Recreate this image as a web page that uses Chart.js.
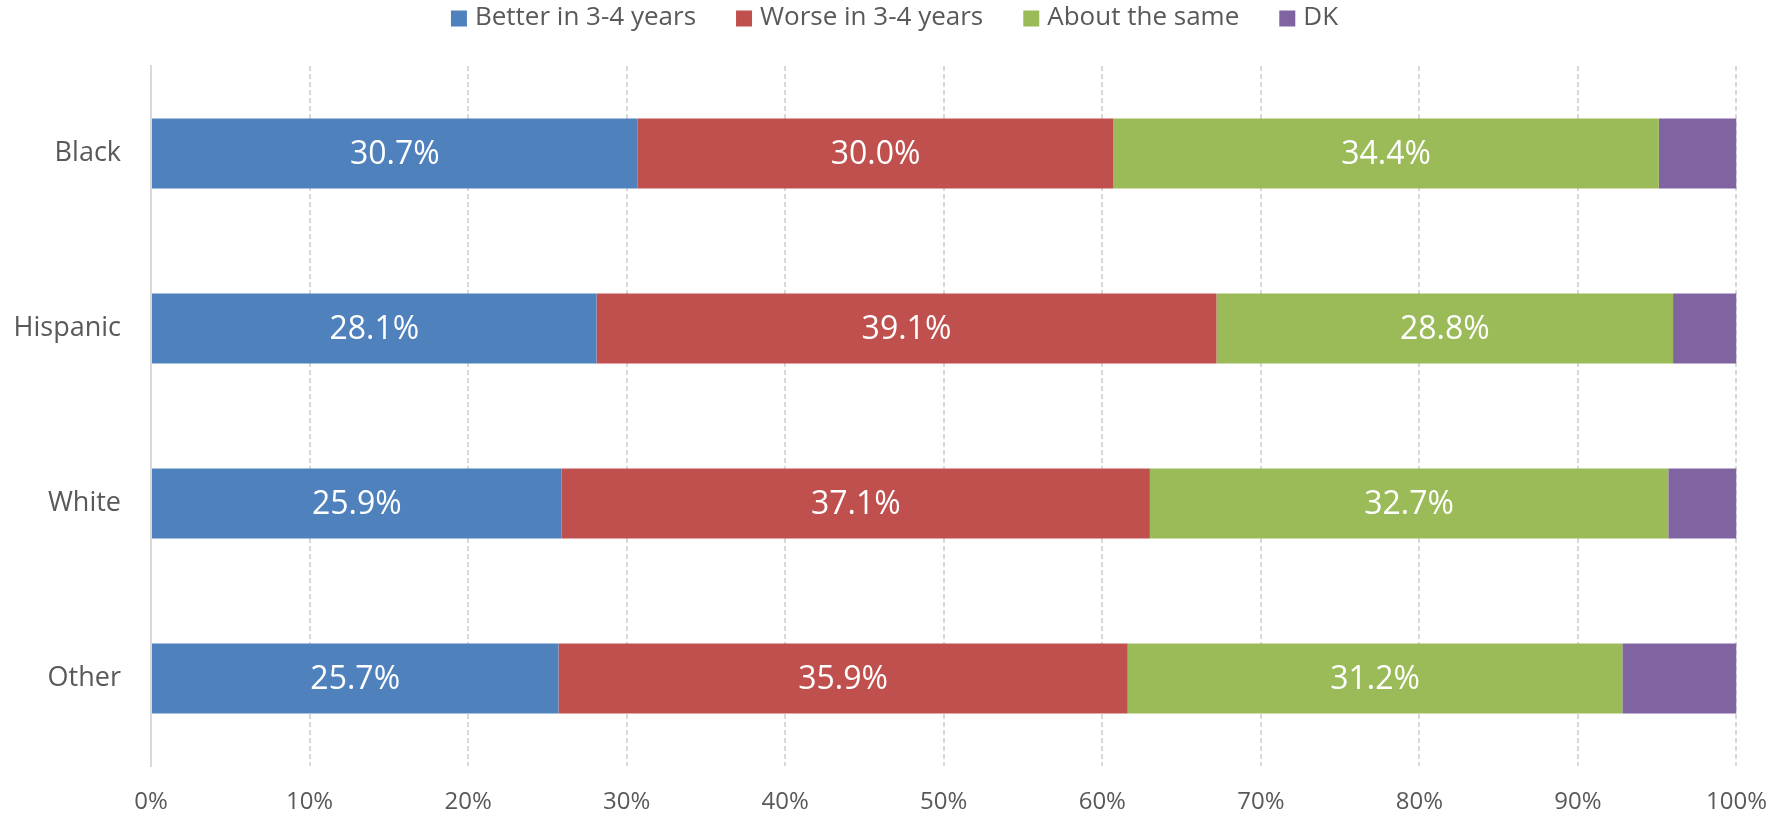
<!DOCTYPE html>
<html>
<head>
<meta charset="utf-8">
<title>Outlook in 3-4 years by group</title>
<script src="https://cdn.jsdelivr.net/npm/chart.js@4/dist/chart.umd.min.js"></script>
<style>
  html, body { margin: 0; padding: 0; background: #ffffff; }
  #wrap { width: 1789px; height: 815px; }
</style>
</head>
<body>
<div id="wrap"><canvas id="chart" width="1789" height="815"></canvas></div>
<script>
// Survey groups (top to bottom) and the share of answers in each group, in percent
const groups = ['Black', 'Hispanic', 'White', 'Other'];
const betterIn34 = [30.7, 28.1, 25.9, 25.7];
const worseIn34 = [30.0, 39.1, 37.1, 35.9];
const aboutSame = [34.4, 28.8, 32.7, 31.2];
const dontKnow = [4.9, 4.0, 4.3, 7.2];

const seriesNames = ['Better in 3-4 years', 'Worse in 3-4 years', 'About the same', 'DK'];
const xTicks = [0, 10, 20, 30, 40, 50, 60, 70, 80, 90, 100];

const FONT = '"Open Sans", "Liberation Sans", sans-serif';
const TEXT_GRAY = '#595959';
const GRID_GRAY = '#D9D9D9';

// White value text centred in each labelled segment
const segmentLabels = {
  id: 'segmentLabels',
  afterDatasetsDraw(chart) {
    const ctx = chart.ctx;
    ctx.save();
    ctx.font = '32px ' + FONT;
    ctx.fillStyle = '#ffffff';
    ctx.textAlign = 'center';
    ctx.textBaseline = 'middle';
    chart.data.datasets.forEach((ds, i) => {
      if (!ds.labelled) return;
      const meta = chart.getDatasetMeta(i);
      meta.data.forEach((bar, j) => {
        const p = bar.getProps(['x', 'y', 'base'], true);
        ctx.fillText(ds.data[j].toFixed(1) + '%', (p.x + p.base) / 2, p.y + 1);
      });
    });
    ctx.restore();
  }
};

// Single-row legend across the top, centred on the canvas
const topLegend = {
  id: 'topLegend',
  afterDraw(chart) {
    const ctx = chart.ctx;
    const box = 16, gap = 8, itemGap = 40, cy = 17.5;
    ctx.save();
    ctx.font = '26px ' + FONT;
    ctx.textBaseline = 'middle';
    ctx.textAlign = 'left';
    const items = chart.data.datasets.map(ds => ({
      text: ds.label, color: ds.backgroundColor, w: ctx.measureText(ds.label).width
    }));
    const total = items.reduce((s, it) => s + box + gap + it.w, 0) + itemGap * (items.length - 1);
    let x = (chart.width - total) / 2;
    items.forEach(it => {
      ctx.fillStyle = it.color;
      ctx.fillRect(x, cy - box / 2 + 1, box, box);
      ctx.fillStyle = TEXT_GRAY;
      ctx.fillText(it.text, x + box + gap, cy);
      x += box + gap + it.w + itemGap;
    });
    ctx.restore();
  }
};

function build() {
  const colors = ['#4F81BD', '#C0504D', '#9BBB59', '#8064A2'];
  const values = [betterIn34, worseIn34, aboutSame, dontKnow];
  const datasets = values.map((v, i) => ({
    label: seriesNames[i],
    data: v,
    backgroundColor: colors[i],
    borderWidth: 0,
    barPercentage: 0.4,
    categoryPercentage: 1.0,
    labelled: i < 3
  }));

  new Chart(document.getElementById('chart'), {
    type: 'bar',
    data: { labels: groups, datasets },
    options: {
      responsive: false,
      animation: false,
      indexAxis: 'y',
      layout: { padding: { top: 66, right: 52, bottom: 0, left: 0 } },
      plugins: {
        legend: { display: false },
        tooltip: { enabled: false }
      },
      scales: {
        x: {
          stacked: true,
          min: 0,
          max: 100,
          afterBuildTicks(scale) { scale.ticks = xTicks.map(v => ({ value: v })); },
          afterFit(scale) { scale.height = 49; },
          ticks: {
            callback: v => v + '%',
            color: TEXT_GRAY,
            font: { family: FONT, size: 24 },
            padding: 22,
            maxRotation: 0
          },
          grid: {
            color: ctx => (ctx.tick && ctx.tick.value === 0) ? 'rgba(0,0,0,0)' : GRID_GRAY,
            lineWidth: 2,
            drawTicks: false
          },
          border: { display: false, dash: [5, 3] }
        },
        y: {
          stacked: true,
          afterFit(scale) { scale.width = 151; },
          ticks: {
            color: TEXT_GRAY,
            font: { family: FONT, size: 27 },
            padding: 30
          },
          grid: { display: false, drawTicks: false },
          border: { display: true, color: GRID_GRAY, width: 2 }
        }
      }
    },
    plugins: [segmentLabels, topLegend]
  });
}

if (document.fonts && document.fonts.load) {
  Promise.all([
    document.fonts.load('24px "Open Sans"'),
    document.fonts.load('32px "Open Sans"')
  ]).then(build, build);
} else {
  build();
}
</script>
</body>
</html>
